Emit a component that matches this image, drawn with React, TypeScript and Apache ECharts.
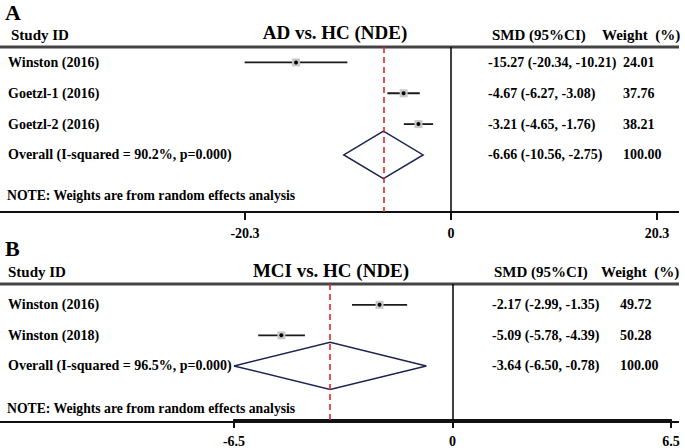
import React, { useEffect, useRef } from "react";
import * as echarts from "echarts";

// Panel A: AD vs. HC (NDE)
const studiesA = ["Winston (2016)", "Goetzl-1 (2016)", "Goetzl-2 (2016)"];
const smdA = [-15.27, -4.67, -3.21];
const lowA = [-20.34, -6.27, -4.65];
const highA = [-10.21, -3.08, -1.76];
const weightA = [24.01, 37.76, 38.21];
const overallA = [-6.66, -10.56, -2.75, 100.0];
const overallLabelA = "Overall (I-squared = 90.2%, p=0.000)";
const ticksA = [-20.3, 0, 20.3];

// Panel B: MCI vs. HC (NDE)
const studiesB = ["Winston (2016)", "Winston (2018)"];
const smdB = [-2.17, -5.09];
const lowB = [-2.99, -5.78];
const highB = [-1.35, -4.39];
const weightB = [49.72, 50.28];
const overallB = [-3.64, -6.5, -0.78, 100.0];
const overallLabelB = "Overall (I-squared = 96.5%, p=0.000)";
const ticksB = [-6.5, 0, 6.5];

const FONT = "Liberation Serif";

const ts = (text: string, x: number, y: number, size: number, align = "left") => ({
  text,
  x,
  y,
  fill: "#000",
  fontFamily: FONT,
  fontWeight: "bold",
  fontSize: size,
  align,
  verticalAlign: "middle",
});

type Row = { label: string; data: number[] };

function buildRows(labels: string[], est: number[], lo: number[], hi: number[], w: number[], ov: number[], ovLabel: string) {
  const rows: Row[] = labels.map((l, i) => ({ label: l, data: [i, est[i], lo[i], hi[i], w[i], 0] }));
  rows.push({ label: ovLabel, data: [labels.length, ov[0], ov[1], ov[2], ov[3], 1] });
  return rows;
}

function makeSeries(rows: Row[], idx: number, pooled: number) {
  return {
    type: "custom",
    xAxisIndex: idx,
    yAxisIndex: idx,
    clip: false,
    encode: { x: [1, 2, 3], y: 0 },
    data: rows.map((r) => r.data),
    renderItem: (params: any, api: any) => {
      const i = api.value(0);
      const est = api.value(1);
      const lo = api.value(2);
      const hi = api.value(3);
      const ov = api.value(5);
      const c = api.coord([est, i]);
      const pl = api.coord([lo, i]);
      const ph = api.coord([hi, i]);
      const y = c[1];
      const children: any[] = [];
      if (ov) {
        const top = api.coord([est, i - 0.77]);
        const bot = api.coord([est, i + 0.77]);
        children.push({
          type: "polygon",
          shape: { points: [pl, top, ph, bot] },
          style: { fill: "none", stroke: "#1c2552", lineWidth: 1.5 },
        });
      } else {
        children.push({
          type: "line",
          shape: { x1: pl[0], y1: y, x2: ph[0], y2: y },
          style: { stroke: "#1a1a1a", lineWidth: 1.8 },
        });
        children.push({
          type: "rect",
          shape: { x: c[0] - 4, y: y - 4, width: 8, height: 8 },
          style: { fill: "#c8c8c8" },
        });
        children.push({
          type: "circle",
          shape: { cx: c[0], cy: y, r: 2 },
          style: { fill: "#000" },
        });
      }
      return { type: "group", children };
    },
    markLine: {
      silent: true,
      symbol: ["none", "none"],
      label: { show: false },
      data: [
        { xAxis: 0, lineStyle: { color: "#000", type: "solid", width: 1.5 } },
        { xAxis: pooled, lineStyle: { color: "#e3262b", type: [6, 4], width: 1.6 } },
      ],
    },
  };
}

export default function App() {
  const ref = useRef<HTMLDivElement>(null);
  useEffect(() => {
    document.body.style.margin = "0";
    const chart = echarts.init(ref.current!, undefined, { renderer: "svg" });
    const rowsA = buildRows(studiesA, smdA, lowA, highA, weightA, overallA, overallLabelA);
    const rowsB = buildRows(studiesB, smdB, lowB, highB, weightB, overallB, overallLabelB);

    const xAxisCommon = (ticks: number[], gridIndex: number) => ({
      type: "value",
      gridIndex,
      min: ticks[0],
      max: ticks[2],
      interval: ticks[2],
      axisLine: { show: true, onZero: false, lineStyle: { color: "#111", width: 2.2 } },
      axisTick: { show: true, length: 8, inside: false, lineStyle: { color: "#111", width: 2 } },
      splitLine: { show: false },
      axisLabel: { show: true, margin: 14, color: "#000", fontFamily: FONT, fontWeight: "bold", fontSize: 14 },
    });

    chart.setOption({
      animation: false,
      backgroundColor: "#fff",
      grid: [
        { left: 245, right: 28, top: 47, height: 165 },
        { left: 234, right: 14, top: 284, height: 138 },
      ],
      xAxis: [xAxisCommon(ticksA, 0), xAxisCommon(ticksB, 1)],
      yAxis: [
        { type: "value", gridIndex: 0, inverse: true, min: -0.5, max: 4.85, show: false },
        { type: "value", gridIndex: 1, inverse: true, min: -0.68, max: 3.77, show: false },
      ],
      series: [makeSeries(rowsA, 0, overallA[0]), makeSeries(rowsB, 1, overallB[0])],
    });

    const hbar = (id: string, y: number, color: string, h: number) => ({
      id,
      type: "rect",
      shape: { x: 0, y: y - h / 2, width: 679, height: h },
      style: { fill: color },
      silent: true,
    });
    const txt = (id: string, text: string, x: number, y: number, size: number, align = "left") => ({
      id,
      type: "text",
      style: ts(text, x, y, size, align),
      silent: true,
    });

    const rowTexts = (rows: Row[], gridIndex: number, smdX: number, wX: number, key: string) => {
      const out: any[] = [];
      rows.forEach((r, k) => {
        const [, est, lo, hi, w] = r.data;
        const y = chart.convertToPixel({ gridIndex } as any, [0, r.data[0]])[1];
        out.push(txt(`${key}l${k}`, r.label, 8, y, 14));
        out.push(txt(`${key}s${k}`, `${est.toFixed(2)} (${lo.toFixed(2)}, ${hi.toFixed(2)})`, smdX, y, 14));
        out.push(txt(`${key}w${k}`, w.toFixed(2), wX, y, 14));
      });
      return out;
    };

    chart.setOption({
      graphic: [
        hbar("hA", 47, "#444", 3),
        hbar("aA", 212, "#111", 2.2),
        hbar("hB", 284, "#444", 3),
        hbar("aB", 422, "#111", 2.2),
        txt("t1", "A", 5, 12, 22),
        txt("t2", "Study ID", 11, 35, 15),
        txt("t3", "AD vs. HC (NDE)", 335, 32, 19, "center"),
        txt("t4", "SMD (95%CI)", 492, 35, 15),
        txt("t5", "Weight  (%)", 602, 35, 15),
        txt("t6", "NOTE: Weights are from random effects analysis", 7, 195, 13.7),
        txt("t7", "B", 5, 248, 22),
        txt("t8", "Study ID", 8, 272, 15),
        txt("t9", "MCI vs. HC (NDE)", 331, 270, 19, "center"),
        txt("t10", "SMD (95%CI)", 494, 272, 15),
        txt("t11", "Weight  (%)", 601, 272, 15),
        txt("t12", "NOTE: Weights are from random effects analysis", 7, 408, 13.7),
        ...rowTexts(rowsA, 0, 488, 623, "a"),
        ...rowTexts(rowsB, 1, 492, 620, "b"),
      ],
    });
    return () => chart.dispose();
  }, []);
  return <div ref={ref} style={{ position: "fixed", left: 0, top: 0, width: 685, height: 448 }} />;
}
